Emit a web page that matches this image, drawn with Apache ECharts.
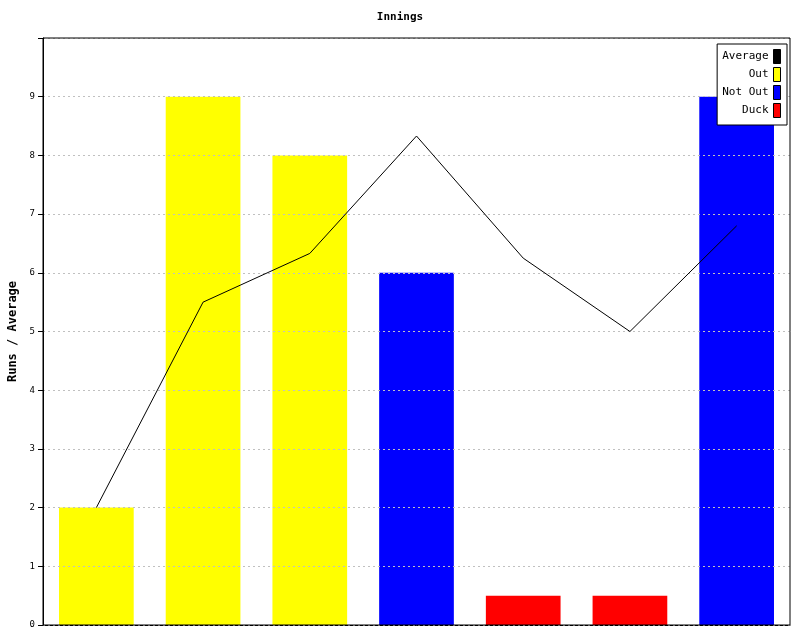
<!DOCTYPE html>
<html><head><meta charset="utf-8">
<script src="https://cdn.jsdelivr.net/npm/echarts@6/dist/echarts.min.js"></script>
<style>html,body{margin:0;padding:0;background:#fff}#c{width:800px;height:640px}</style>
</head><body><div id="c"></div>
<script>
const categories = ['1','2','3','4','5','6','7'];
const outRuns = [2, 9, 8, '-', '-', '-', '-'];
const notOutRuns = ['-', '-', '-', 6, '-', '-', 9];
const duckRuns = ['-', '-', '-', '-', 0.5, 0.5, '-'];
const average = [2, 5.5, 6.33, 8.33, 6.25, 5, 6.8];
const yTicks = [0,1,2,3,4,5,6,7,8,9];

const font = 'DejaVu Sans Mono';
const chart = echarts.init(document.getElementById('c'));
chart.setOption({
  animation: false,
  backgroundColor: '#fff',
  textStyle: {fontFamily: font},
  title: {text: 'Innings', left: 'center', top: 7,
    textStyle: {fontFamily: font, fontSize: 11, fontWeight: 'bold', color: '#000'}},
  grid: {left: 43, right: 10, top: 38, bottom: 15, show: true, borderColor: '#000', borderWidth: 1, z: 6,
    containLabel: false, outerBoundsMode: 'none'},
  legend: {
    orient: 'vertical', right: 13, top: 44, align: 'right',
    data: ['Average', 'Out', 'Not Out', 'Duck'],
    icon: 'rect', itemWidth: 7, itemHeight: 14, itemGap: 3,
    padding: [5, 6, 7, 5],
    backgroundColor: '#fff', borderColor: '#000', borderWidth: 1, borderRadius: 0,
    itemStyle: {borderColor: '#000', borderWidth: 1},
    textStyle: {fontFamily: font, fontSize: 11, color: '#000'},
    z: 10
  },
  xAxis: {type: 'category', data: categories,
    axisLine: {lineStyle: {color: '#000'}}, axisTick: {show: false}, axisLabel: {show: false}},
  yAxis: {type: 'value', min: 0, max: 10, interval: 1, z: 3,
    name: 'Runs / Average', nameLocation: 'middle', nameGap: 24, nameRotate: 90,
    nameTextStyle: {fontFamily: font, fontSize: 12, fontWeight: 'bold', color: '#000'},
    axisLine: {show: true, lineStyle: {color: '#000'}},
    axisTick: {show: true, length: 5, lineStyle: {color: '#000'}},
    axisLabel: {fontFamily: font, fontSize: 9, color: '#000', margin: 8,
      formatter: v => yTicks.includes(v) ? String(v) : ''},
    splitLine: {show: true, lineStyle: {color: '#c0c0c0', type: [2, 3], width: 1}}
  },
  series: [
    {name: 'Out', type: 'bar', stack: 'r', data: outRuns, barWidth: '70%', itemStyle: {color: '#ffff00'}, z: 2},
    {name: 'Not Out', type: 'bar', stack: 'r', data: notOutRuns, barWidth: '70%', itemStyle: {color: '#0000ff'}, z: 2},
    {name: 'Duck', type: 'bar', stack: 'r', data: duckRuns, barWidth: '70%', itemStyle: {color: '#ff0000'}, z: 2},
    {name: 'Average', type: 'line', data: average, symbol: 'none', z: 5,
      lineStyle: {color: '#000', width: 1}, itemStyle: {color: '#000'}}
  ]
});
</script></body></html>
